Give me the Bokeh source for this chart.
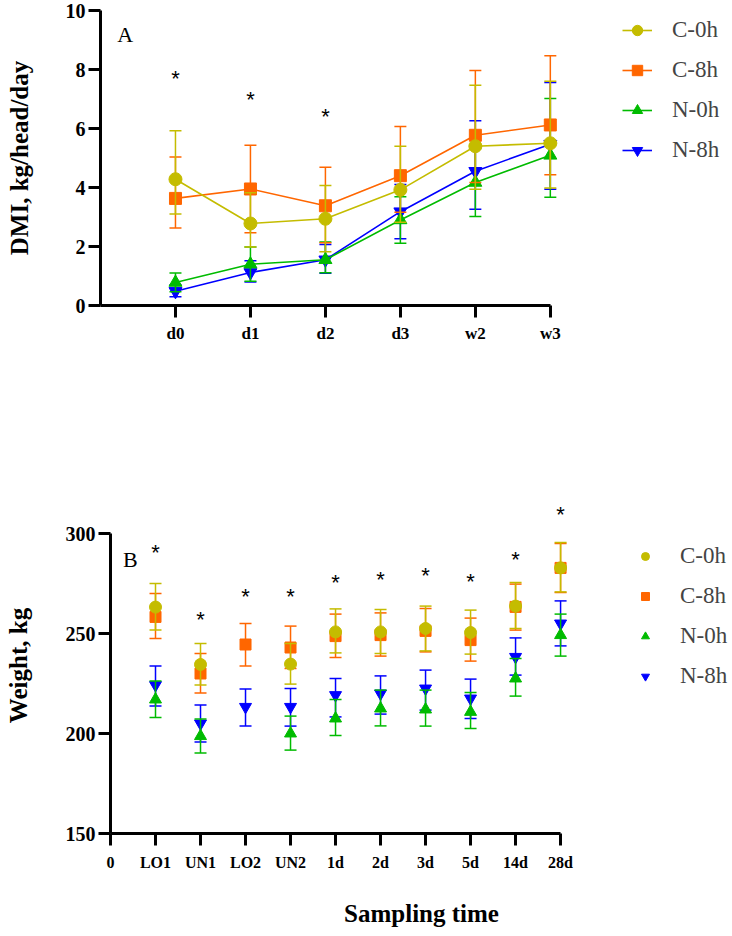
import numpy as np
from bokeh.plotting import figure
from bokeh.models import ColumnDataSource, Legend, LegendItem, Label, FixedTicker, Range1d
from bokeh.embed import file_html
from bokeh.resources import INLINE
from bokeh.core.properties import value

nan = float("nan")

# ---------------- Panel A data (DMI, kg/head/day) ----------------
a_times = ["d0", "d1", "d2", "d3", "w2", "w3"]
a_yticks = [0, 2, 4, 6, 8, 10]

a_c0_mean = [4.28, 2.78, 2.94, 3.92, 5.40, 5.50]
a_c0_hi = [5.92, 3.82, 4.07, 5.40, 7.47, 7.60]
a_c0_lo = [3.10, 1.98, 1.82, 2.82, 3.94, 3.98]

a_c8_mean = [3.63, 3.95, 3.38, 4.40, 5.77, 6.12]
a_c8_hi = [5.03, 5.43, 4.69, 6.07, 7.97, 8.47]
a_c8_lo = [2.63, 2.47, 2.13, 3.16, 4.17, 4.43]

a_n0_mean = [0.78, 1.40, 1.55, 2.90, 4.17, 5.09]
a_n0_hi = [1.10, 1.98, 2.15, 3.69, 5.32, 7.02]
a_n0_lo = [0.47, 0.82, 1.11, 2.11, 3.02, 3.67]

a_n8_mean = [0.48, 1.12, 1.55, 3.18, 4.55, 5.47]
a_n8_hi = [0.70, 1.52, 2.07, 4.10, 6.26, 7.56]
a_n8_lo = [0.30, 0.80, 1.09, 2.26, 3.26, 3.94]

a_star_times = ["d0", "d1", "d2"]
a_star_y = [7.8, 7.1, 6.5]

# ---------------- Panel B data (Weight, kg) ----------------
b_times = ["LO1", "UN1", "LO2", "UN2", "1d", "2d", "3d", "5d", "14d", "28d"]
b_yticks = [150, 200, 250, 300]

b_c0_mean = [263.2, 234.5, nan, 234.7, 250.8, 250.8, 252.5, 250.5, 263.7, 282.8]
b_c0_hi = [275.0, 245.0, nan, 245.0, 262.3, 262.0, 263.7, 261.7, 275.5, 295.5]
b_c0_lo = [251.7, 224.2, nan, 224.7, 240.3, 240.0, 241.3, 239.7, 252.5, 270.8]

b_c8_mean = [258.3, 230.0, 244.5, 243.0, 248.7, 249.2, 251.3, 246.7, 263.3, 282.8]
b_c8_hi = [270.0, 240.0, 255.0, 253.7, 259.7, 260.3, 262.5, 257.7, 274.7, 295.0]
b_c8_lo = [247.5, 220.3, 233.7, 232.5, 238.0, 238.7, 240.8, 236.2, 251.7, 270.5]

b_n0_mean = [217.0, 198.7, nan, 200.0, 207.5, 212.5, 212.0, 210.8, 227.5, 249.2]
b_n0_hi = [226.3, 207.2, nan, 208.7, 217.0, 221.7, 221.7, 220.5, 237.5, 259.7]
b_n0_lo = [208.0, 190.3, nan, 191.7, 199.0, 203.8, 203.7, 202.5, 218.7, 238.7]

b_n8_mean = [224.2, 205.0, 213.3, 213.3, 219.2, 220.0, 222.5, 217.5, 238.3, 255.0]
b_n8_hi = [233.8, 214.2, 222.3, 222.5, 227.5, 228.8, 231.7, 227.2, 247.8, 266.3]
b_n8_lo = [213.7, 195.7, 203.7, 203.7, 208.3, 209.7, 211.7, 207.5, 229.2, 243.8]

b_star_y = [292.0, 258.3, 270.0, 270.0, 277.0, 278.3, 280.3, 277.5, 288.3, 310.8]

series_names = ["C-0h", "C-8h", "N-0h", "N-8h"]
YEL, ORA, GRN, BLU = "#c4bc00", "#ff6600", "#00bb00", "#0000ff"

SERIF = "Liberation Serif"


def style_axes(p, xsize, ysize, xstand, xlab_stand, ylab_stand):
    p.xgrid.visible = False
    p.ygrid.visible = False
    p.outline_line_color = None
    p.background_fill_color = "white"
    p.border_fill_color = "white"
    for ax in p.axis:
        ax.axis_line_width = 3
        ax.axis_line_color = "black"
        ax.major_tick_line_width = 3
        ax.major_tick_line_color = "black"
        ax.major_tick_in = 0
        ax.major_tick_out = 12
        ax.minor_tick_line_color = None
        ax.major_label_text_font = SERIF
        ax.major_label_text_font_style = "bold"
        ax.major_label_text_color = "black"
        ax.axis_label_text_font = SERIF
        ax.axis_label_text_font_style = "bold"
        ax.axis_label_text_font_size = "25px"
        ax.axis_label_text_color = "black"
    p.xaxis.major_label_text_font_size = xsize
    p.yaxis.major_label_text_font_size = ysize
    p.xaxis.major_label_standoff = xstand
    p.yaxis.major_label_standoff = 3
    p.yaxis.axis_label_standoff = ylab_stand
    p.xaxis.axis_label_standoff = xlab_stand


def draw_series(p, xs, mean, lo, hi, color, marker, size, with_line):
    src = ColumnDataSource(dict(x=np.array(xs, dtype=float), m=np.array(mean, dtype=float),
                                lo=np.array(lo, dtype=float), hi=np.array(hi, dtype=float)))
    p.segment(x0="x", y0="lo", x1="x", y1="hi", source=src, line_color=color, line_width=1.5)
    p.scatter(x="x", y="hi", source=src, marker="dash", size=12, line_color=color, line_width=1.5)
    p.scatter(x="x", y="lo", source=src, marker="dash", size=12, line_color=color, line_width=1.5)
    rs = []
    if with_line:
        rs.append(p.line(x="x", y="m", source=src, line_color=color, line_width=1.6))
    rs.append(p.scatter(x="x", y="m", source=src, marker=marker, size=size,
                        fill_color=color, line_color=color))
    return rs


# ---------------- Panel A ----------------
ax_pos = [i + 1 for i in range(len(a_times))]
pA = figure(width=732, height=345, output_backend="svg", toolbar_location=None,
            x_range=Range1d(0, 8.43), y_range=Range1d(0, 10),
            min_border_left=100, min_border_right=0, min_border_top=10, min_border_bottom=38)
style_axes(pA, "17px", "20px", 6, 20, 30)
pA.xaxis.ticker = FixedTicker(ticks=ax_pos)
pA.xaxis.major_label_overrides = {p: t for p, t in zip(ax_pos, a_times)}
pA.xaxis.bounds = (0, len(a_times))
pA.yaxis.ticker = FixedTicker(ticks=a_yticks)
pA.yaxis.bounds = (a_yticks[0], a_yticks[-1])
pA.yaxis.axis_label = "DMI, kg/head/day"

rA_n8 = draw_series(pA, ax_pos, a_n8_mean, a_n8_lo, a_n8_hi, BLU, "inverted_triangle", 13, True)
rA_n0 = draw_series(pA, ax_pos, a_n0_mean, a_n0_lo, a_n0_hi, GRN, "triangle", 13, True)
rA_c8 = draw_series(pA, ax_pos, a_c8_mean, a_c8_lo, a_c8_hi, ORA, "square", 12, True)
rA_c0 = draw_series(pA, ax_pos, a_c0_mean, a_c0_lo, a_c0_hi, YEL, "circle", 13, True)

starA = ColumnDataSource(dict(x=[a_times.index(t) + 1 for t in a_star_times], y=a_star_y,
                              t=["*"] * len(a_star_y)))
pA.text(x="x", y="y", text="t", source=starA, text_font=value("Liberation Sans"),
        text_font_size="22px", text_align="center", text_baseline="alphabetic",
        y_offset=3, text_color="black")

pA.add_layout(Label(x=0.33, y=9.2, text="A", text_font=SERIF, text_font_size="22px",
                    text_align="center", text_baseline="alphabetic", text_color="black"))

legA = Legend(items=[LegendItem(label=n, renderers=r) for n, r in
                     zip(series_names, [rA_c0, rA_c8, rA_n0, rA_n8])],
              location=(522, 142), orientation="vertical",
              glyph_width=30, glyph_height=26, label_height=26, spacing=14,
              label_standoff=20, padding=0, margin=0,
              label_text_font=SERIF, label_text_font_size="23px",
              border_line_alpha=0, background_fill_alpha=0)
pA.add_layout(legA)

# ---------------- Panel B ----------------
bx_pos = [i + 1 for i in range(len(b_times))]
pB = figure(width=732, height=590, output_backend="svg", toolbar_location=None,
            x_range=Range1d(0, 13.82), y_range=Range1d(150, 318),
            min_border_left=110, min_border_right=0, min_border_top=152, min_border_bottom=102)
style_axes(pB, "16px", "20px", 8, 26, 31)
pB.xaxis.ticker = FixedTicker(ticks=[0] + bx_pos)
pB.xaxis.major_label_overrides = {0: "0", **{p: t for p, t in zip(bx_pos, b_times)}}
pB.xaxis.bounds = (0, len(b_times))
pB.xaxis.axis_label = "Sampling time"
pB.yaxis.ticker = FixedTicker(ticks=b_yticks)
pB.yaxis.bounds = (b_yticks[0], b_yticks[-1])
pB.yaxis.axis_label = "Weight, kg"

rB_n8 = draw_series(pB, bx_pos, b_n8_mean, b_n8_lo, b_n8_hi, BLU, "inverted_triangle", 12, False)
rB_n0 = draw_series(pB, bx_pos, b_n0_mean, b_n0_lo, b_n0_hi, GRN, "triangle", 12, False)
rB_c8 = draw_series(pB, bx_pos, b_c8_mean, b_c8_lo, b_c8_hi, ORA, "square", 11, False)
rB_c0 = draw_series(pB, bx_pos, b_c0_mean, b_c0_lo, b_c0_hi, YEL, "circle", 12, False)

starB = ColumnDataSource(dict(x=bx_pos, y=b_star_y, t=["*"] * len(b_star_y)))
pB.text(x="x", y="y", text="t", source=starB, text_font=value("Liberation Sans"),
        text_font_size="22px", text_align="center", text_baseline="alphabetic",
        y_offset=3, text_color="black")

pB.add_layout(Label(x=0.44, y=287, text="B", text_font=SERIF, text_font_size="22px",
                    text_align="center", text_baseline="alphabetic", text_color="black"))

legB = Legend(items=[LegendItem(label=n, renderers=[r[-1]]) for n, r in
                     zip(series_names, [rB_c0, rB_c8, rB_n0, rB_n8])],
              location=(525, 144), orientation="vertical",
              glyph_width=20, glyph_height=26, label_height=26, spacing=14,
              label_standoff=25, padding=0, margin=0,
              label_text_font=SERIF, label_text_font_size="23px",
              border_line_alpha=0, background_fill_alpha=0)
pB.add_layout(legB)

open("out.html", "w").write(file_html([pA, pB], INLINE))
